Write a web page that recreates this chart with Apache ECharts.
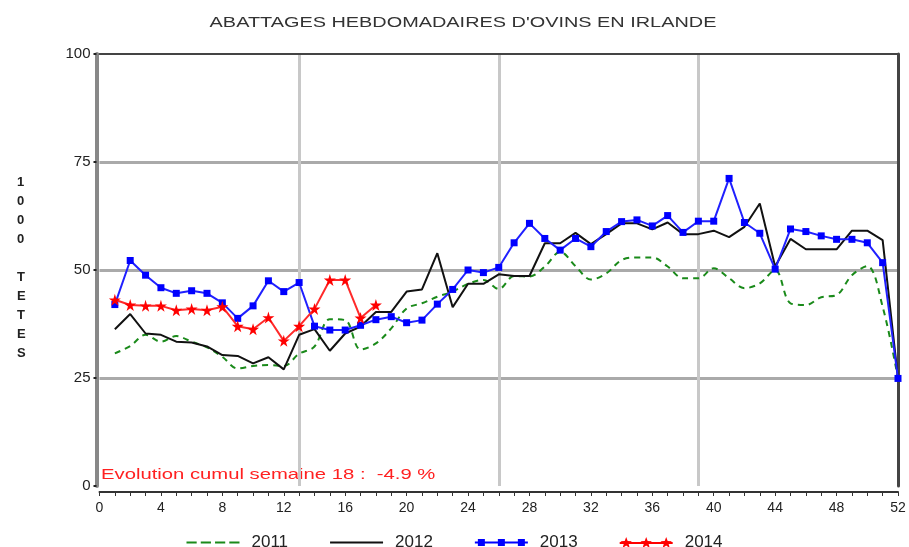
<!DOCTYPE html>
<html>
<head>
<meta charset="utf-8">
<script src="https://cdn.jsdelivr.net/npm/echarts@6/dist/echarts.min.js"></script>
<style>
  html, body { margin: 0; padding: 0; background: #fff; }
  #chart { width: 909px; height: 547px; }
</style>
</head>
<body>
<div id="chart"></div>
<script>
// ------------------------------------------------------------------------
// Data (milliers de têtes, semaines 1..52)
// ------------------------------------------------------------------------
var years = ['2011', '2012', '2013', '2014'];
var xTicks = [0, 4, 8, 12, 16, 20, 24, 28, 32, 36, 40, 44, 48, 52];
var yTicks = [0, 25, 50, 75, 100];

var v2011 = [30.7, 32.4, 35, 33.4, 34.7, 33.4, 32.1, 29.9, 27.2, 27.8, 28, 27.8, 30.6,
             32.3, 38.6, 38.4, 31.6, 33, 36.5, 41.1, 42.3, 43.8, 45, 46.8, 47.7, 45.6,
             48.6, 48.5, 50.8, 54.2, 50.9, 47.8, 49.2, 52.3, 52.9, 52.9, 50.8, 48.1, 48.1,
             50.4, 48.1, 45.8, 46.9, 50, 42.3, 41.9, 43.7, 44.2, 48.8, 50.9, 41.5, 24.9];
var v2012 = [36.3, 39.8, 35.3, 35, 33.4, 33.2, 32.3, 30.3, 30.1, 28.4, 29.8, 27, 35,
             36.3, 31.3, 35.3, 36.9, 40.3, 40.3, 45, 45.5, 53.9, 41.4, 46.8, 46.8, 49,
             48.6, 48.6, 56.2, 56.2, 58.6, 56, 58.3, 60.8, 60.8, 59.4, 61, 58.3, 58.3,
             59.1, 57.6, 60, 65.4, 50.8, 57.2, 54.8, 54.8, 54.8, 59.1, 59.1, 56.9, 24.9];
var v2013 = [42, 52.2, 48.8, 45.9, 44.6, 45.2, 44.6, 42.4, 38.8, 41.7, 47.5, 45, 47.1,
             37, 36.1, 36.1, 37.2, 38.5, 39.2, 37.8, 38.4, 42.1, 45.5, 50, 49.4, 50.6,
             56.3, 60.8, 57.3, 54.6, 57.3, 55.4, 58.9, 61.2, 61.6, 60.2, 62.6, 58.7, 61.3,
             61.3, 71.2, 61, 58.5, 50.2, 59.5, 58.9, 57.9, 57.1, 57.1, 56.3, 51.7, 24.9];
var v2014 = [43.1, 41.9, 41.7, 41.7, 40.7, 41, 40.7, 41.5, 37, 36.3, 39, 33.6, 37,
             41, 47.7, 47.7, 38.9, 41.9];

var noteText = 'Evolution cumul semaine 18 :  -4.9 %';

function toPoints(arr) {
    return arr.map(function(v, i) { return [i + 1, v]; });
}

var STAR = 'path://M50,0 L61,35 L98,35 L68,57 L79,91 L50,70 L21,91 L32,57 L2,35 L39,35 Z';
var FONT = '"Liberation Sans", Arial, sans-serif';

// icônes de légende (ligne + 3 marqueurs, comme l'original)
function starAt(cx) {
    var pts = [[0,-12],[2.94,-4.05],[11.41,-3.71],[4.76,1.55],[7.05,9.71],[0,5],
               [-7.05,9.71],[-4.76,1.55],[-11.41,-3.71],[-2.94,-4.05]];
    return 'M' + pts.map(function(p) { return (cx + p[0]) + ',' + (12 + p[1]); }).join('L') + 'Z';
}
var ICON_DASH = 'path://M0,10H20V14H0Z M28,10H48V14H28Z M56,10H76V14H56Z M84,10H104V14H84Z';
var ICON_LINE = 'path://M0,10H106V14H0Z';
var ICON_RECT = 'path://M0,10H106V14H0Z M6,5H20V19H6Z M46,5H60V19H46Z M86,5H100V19H86Z';
var ICON_STAR = 'path://M0,10H106V14H0Z ' + starAt(13) + ' ' + starAt(53) + ' ' + starAt(93);

var chart = echarts.init(document.getElementById('chart'));

var option = {
    animation: false,
    backgroundColor: '#fff',
    grid: { left: 99.5, right: 11, top: 54, bottom: 61 },
    legend: {
        data: [
            { name: '2011', icon: ICON_DASH },
            { name: '2012', icon: ICON_LINE },
            { name: '2013', icon: ICON_RECT },
            { name: '2014', icon: ICON_STAR }
        ],
        left: 'center',
        top: 529,
        itemWidth: 53,
        itemHeight: 12,
        itemGap: 42,
        textStyle: { fontFamily: FONT, fontSize: 17, color: '#222', padding: [0, 0, 0, 7] }
    },
    xAxis: [{
        type: 'value',
        min: 0, max: 52, interval: 4,
        offset: 6,
        axisLine: { show: true, onZero: false, lineStyle: { color: '#333', width: 2 } },
        axisTick: { show: true, length: 4, lineStyle: { color: '#333' } },
        minorTick: { show: true, splitNumber: 4, length: 4, lineStyle: { color: '#333' } },
        axisLabel: {
            margin: 9, fontFamily: FONT, fontSize: 14, color: '#222',
            formatter: function(v) { return xTicks.indexOf(v) >= 0 ? String(v) : ''; }
        },
        splitLine: { show: false }
    }, {
        // grille trimestrielle + bordure haute
        type: 'value',
        position: 'top',
        min: 0, max: 52, interval: 13,
        axisLine: { show: true, onZero: false, lineStyle: { color: '#444', width: 2 } },
        axisTick: { show: false },
        axisLabel: { show: false },
        splitLine: { show: true, showMinLine: false, showMaxLine: false,
                     lineStyle: { color: '#c8c8c8', width: 3 } }
    }],
    yAxis: [{
        type: 'value',
        min: 0, max: 100, interval: 25,
        offset: 3,
        axisLine: { show: true, onZero: false, lineStyle: { color: '#888', width: 4 } },
        axisTick: { show: true, length: 3, lineStyle: { color: '#222', width: 2 } },
        axisLabel: {
            margin: 6, fontFamily: FONT, fontSize: 15, color: '#222',
            formatter: function(v) { return yTicks.indexOf(v) >= 0 ? String(v) : ''; }
        },
        splitLine: { show: true, showMinLine: false, showMaxLine: false,
                     lineStyle: { color: '#aaa', width: 3 } }
    }, {
        type: 'value',
        position: 'right',
        min: 0, max: 100, interval: 25,
        axisLine: { show: true, onZero: false, lineStyle: { color: '#444', width: 3 } },
        axisTick: { show: false },
        axisLabel: { show: false },
        splitLine: { show: false }
    }],
    graphic: [{
        // titre (police étirée horizontalement comme l'original)
        type: 'text',
        x: 463,
        y: 23,
        scaleX: 1.42,
        style: {
            text: 'ABATTAGES HEBDOMADAIRES D\'OVINS EN IRLANDE',
            font: '14px ' + FONT,
            align: 'center',
            verticalAlign: 'middle',
            fill: '#333'
        }
    }, {
        type: 'text',
        left: 17,
        top: 173,
        style: {
            text: '1\n0\n0\n0\n\nT\nE\nT\nE\nS',
            font: 'bold 13px ' + FONT,
            lineHeight: 19,
            align: 'center',
            fill: '#222'
        }
    }, {
        type: 'text',
        x: 101,
        y: 475,
        scaleX: 1.35,
        style: {
            text: noteText,
            font: '15px ' + FONT,
            verticalAlign: 'middle',
            fill: '#ff2020'
        }
    }],
    series: [{
        name: '2011',
        type: 'line',
        data: toPoints(v2011),
        smooth: 0.35,
        symbol: 'none',
        itemStyle: { color: '#1a8a1a' },
        lineStyle: { color: '#1a8a1a', width: 2, type: [6, 5] },
        z: 2
    }, {
        name: '2012',
        type: 'line',
        data: toPoints(v2012),
        symbol: 'none',
        itemStyle: { color: '#111' },
        lineStyle: { color: '#111', width: 2 },
        z: 3
    }, {
        name: '2013',
        type: 'line',
        data: toPoints(v2013),
        symbol: 'rect',
        symbolSize: 7,
        itemStyle: { color: '#0000ff' },
        lineStyle: { color: '#2020ff', width: 2 },
        z: 4
    }, {
        name: '2014',
        type: 'line',
        data: toPoints(v2014),
        symbol: STAR,
        symbolSize: 12,
        itemStyle: { color: '#ff0000' },
        lineStyle: { color: '#ff2a2a', width: 2 },
        z: 5
    }]
};

chart.setOption(option);
</script>
</body>
</html>
